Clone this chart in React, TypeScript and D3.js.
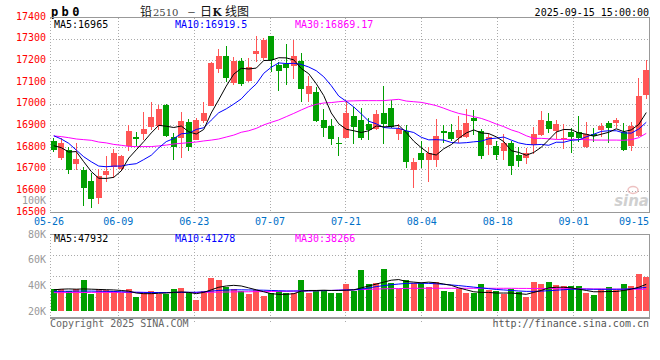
import * as d3 from 'd3';

// 日K 铅2510, 2025-05-26 .. 2025-09-15 (80 trading days)
const tickDates = ['05-26', '06-09', '06-23', '07-07', '07-21', '08-04', '08-18', '09-01', '09-15'];
const tickIndex = [0, 9, 19, 29, 39, 49, 59, 69, 79];

const opens = [
  16831, 16754, 16789, 16726, 16697, 16646, 16569, 16674, 16712, 16700,
  16809, 16849, 16865, 16895, 16898, 16995, 16848, 16846, 16918, 16835,
  16923, 16994, 17165, 17223, 17100, 17200, 17109, 17234, 17212, 17315,
  17183, 17188, 17178, 17200, 17049, 17055, 16926, 16900, 16823, 16846,
  16946, 16928, 16911, 16885, 16960, 16983, 16865, 16878, 16697, 16777,
  16743, 16745, 16877, 16872, 16846, 16849, 16937, 16877, 16812, 16808,
  16786, 16823, 16766, 16751, 16812, 16858, 16923, 16877, 16840, 16874,
  16871, 16802, 16865, 16882, 16915, 16915, 16874, 16809, 16855, 17043,
];
const highs = [
  16843, 16843, 16802, 16822, 16709, 16682, 16702, 16760, 16792, 16766,
  16905, 16874, 16963, 17012, 16997, 17000, 16866, 16965, 16932, 16935,
  17009, 17194, 17255, 17268, 17217, 17215, 17212, 17315, 17308, 17315,
  17197, 17277, 17297, 17235, 17131, 17082, 16977, 16932, 16851, 17017,
  16989, 16982, 16938, 16974, 17086, 17020, 16908, 16905, 16751, 16831,
  16802, 16932, 16905, 16909, 16946, 16978, 16974, 16886, 16866, 16831,
  16863, 16831, 16805, 16800, 16897, 16969, 16962, 16928, 16909, 16892,
  16948, 16920, 16889, 16915, 16923, 16938, 16912, 16920, 17123, 17205,
];
const lows = [
  16782, 16742, 16677, 16697, 16532, 16520, 16538, 16640, 16662, 16692,
  16786, 16809, 16834, 16882, 16882, 16849, 16743, 16754, 16783, 16835,
  16912, 16994, 17146, 17105, 17089, 17086, 17105, 17197, 17206, 17151,
  17062, 17089, 17117, 17009, 17009, 16917, 16851, 16812, 16763, 16846,
  16815, 16835, 16835, 16882, 16815, 16892, 16835, 16705, 16612, 16708,
  16643, 16712, 16820, 16831, 16820, 16843, 16858, 16748, 16766, 16743,
  16743, 16674, 16712, 16726, 16769, 16854, 16866, 16840, 16794, 16774,
  16825, 16797, 16828, 16851, 16823, 16889, 16785, 16785, 16851, 17025,
];
const closes = [
  16789, 16823, 16697, 16749, 16615, 16565, 16668, 16694, 16775, 16762,
  16877, 16842, 16886, 16942, 16978, 16855, 16805, 16922, 16805, 16926,
  16960, 17189, 17223, 17123, 17200, 17095, 17172, 17246, 17297, 17205,
  17155, 17168, 17225, 17072, 17085, 16925, 16892, 16840, 16817, 16960,
  16897, 16846, 16883, 16955, 16911, 16897, 16885, 16732, 16735, 16743,
  16774, 16854, 16868, 16840, 16882, 16915, 16925, 16763, 16849, 16766,
  16823, 16717, 16738, 16775, 16863, 16928, 16885, 16909, 16846, 16851,
  16846, 16863, 16855, 16900, 16892, 16928, 16789, 16900, 17038, 17158,
];

const ma5 = [
  16809, 16800, 16780, 16782, 16735, 16690, 16659, 16658, 16663, 16693,
  16752, 16790, 16828, 16868, 16903, 16899, 16893, 16900, 16873, 16863,
  16884, 16960, 17021, 17084, 17139, 17166, 17163, 17167, 17202, 17203,
  17215, 17214, 17205, 17165, 17141, 17095, 17040, 16960, 16910, 16885,
  16878, 16870, 16878, 16900, 16896, 16898, 16903, 16870, 16830, 16800,
  16774, 16766, 16795, 16814, 16843, 16868, 16882, 16868, 16865, 16850,
  16828, 16786, 16778, 16765, 16778, 16802, 16836, 16872, 16884, 16883,
  16868, 16862, 16853, 16862, 16871, 16887, 16874, 16882, 16907, 16962,
];
const ma10 = [
  16855, 16840, 16820, 16789, 16758, 16735, 16715, 16712, 16715, 16715,
  16722, 16726, 16745, 16765, 16799, 16828, 16842, 16864, 16867, 16884,
  16892, 16927, 16961, 16979, 17001, 17025, 17062, 17094, 17143, 17171,
  17191, 17188, 17189, 17184, 17172, 17155, 17127, 17086, 17038, 17014,
  16988, 16956, 16922, 16910, 16893, 16890, 16889, 16878, 16870, 16848,
  16836, 16837, 16835, 16824, 16821, 16823, 16827, 16830, 16841, 16844,
  16849, 16835, 16822, 16815, 16813, 16815, 16811, 16825, 16825, 16834,
  16836, 16850, 16862, 16875, 16878, 16878, 16868, 16867, 16886, 16917,
];
const ma30 = [
  16854, 16851, 16846, 16840, 16837, 16834, 16826, 16822, 16815, 16811,
  16806, 16805, 16805, 16805, 16808, 16812, 16817, 16820, 16823, 16826,
  16831, 16835, 16840, 16849, 16858, 16871, 16878, 16889, 16905, 16917,
  16928, 16943, 16958, 16974, 16989, 17000, 17006, 17008, 17012, 17015,
  17016, 17017, 17017, 17017, 17017, 17020, 17023, 17015, 17012, 17009,
  17002, 16994, 16982, 16969, 16958, 16951, 16943, 16935, 16923, 16909,
  16897, 16882, 16871, 16855, 16843, 16843, 16841, 16838, 16838, 16838,
  16838, 16837, 16835, 16835, 16835, 16835, 16834, 16837, 16846, 16866,
];

const volumes = [
  36900, 36900, 35600, 36900, 44200, 33200, 36900, 36400, 35800, 33800,
  37100, 31200, 34800, 35800, 33200, 33200, 37100, 38200, 33800, 28600,
  35800, 46000, 44200, 38400, 36900, 35800, 33200, 36400, 31900, 33800,
  35800, 33800, 33800, 44200, 34300, 36400, 36400, 34300, 34300, 41000,
  35800, 51900, 41000, 41600, 52700, 41600, 36900, 44200, 42100, 41600,
  38400, 42600, 35800, 34800, 36900, 34000, 33800, 41000, 36400, 35800,
  33200, 36900, 34800, 31200, 42600, 41000, 42600, 40300, 39500, 39500,
  39500, 34000, 32500, 36900, 38400, 36400, 41000, 39500, 48800, 46700,
];
const volMa5 = [
  36500, 37000, 37200, 37000, 37200, 37000, 36800, 36600, 36400, 36000,
  35500, 34000, 33500, 33500, 33800, 34000, 34500, 34800, 34500, 33500,
  34500, 36500, 38500, 39500, 40000, 39500, 38000, 36500, 35000, 33500,
  33000, 33000, 33500, 35500, 36000, 36000, 36200, 36000, 36000, 36200,
  36500, 38000, 39500, 41000, 42500, 44000, 44500, 43000, 42500, 42000,
  42500, 42000, 41000, 40000, 38000, 36500, 35000, 34500, 34500, 34000,
  34000, 34000, 33500, 33000, 34500, 36000, 38000, 38500, 38500, 38000,
  37000, 36000, 35000, 35000, 35200, 35200, 36000, 37000, 38500, 40800,
];
const volMa10 = [
  35300, 35300, 35400, 35500, 35500, 35500, 35400, 35300, 35200, 35000,
  34800, 34600, 34500, 34400, 34400, 34400, 34500, 34600, 34600, 34600,
  35000, 35500, 36000, 36300, 36500, 36500, 36400, 36300, 36200, 36000,
  35800, 35600, 35600, 35600, 35700, 35800, 35900, 36000, 36200, 36400,
  36500, 37000, 38000, 39000, 39800, 40500, 41000, 41500, 41600, 41600,
  41500, 41200, 40800, 40300, 39800, 39200, 38600, 38000, 37400, 36800,
  36400, 36000, 35600, 35300, 35300, 35500, 35800, 36200, 36600, 36900,
  37000, 37000, 36900, 36900, 36900, 36900, 37000, 37300, 37800, 38400,
];
const volMa30 = [
  34300, 34300, 34400, 34400, 34400, 34500, 34500, 34500, 34500, 34500,
  34500, 34500, 34500, 34400, 34400, 34400, 34400, 34400, 34400, 34400,
  34500, 34600, 34700, 34800, 34900, 35000, 35000, 35100, 35100, 35200,
  35300, 35400, 35500, 35600, 35700, 35800, 35900, 36000, 36200, 36400,
  36500, 36700, 36900, 37100, 37300, 37400, 37500, 37600, 37700, 37700,
  37700, 37700, 37700, 37700, 37700, 37700, 37700, 37700, 37700, 37700,
  37700, 37700, 37600, 37600, 37500, 37500, 37500, 37400, 37400, 37400,
  37300, 37300, 37200, 37200, 37100, 37100, 37000, 37000, 36900, 36900,
];

const priceTicks = [16500, 16600, 16700, 16800, 16900, 17000, 17100, 17200, 17300, 17400];
const volTicks = [20000, 40000, 60000, 80000];

const RED = '#ff5555';
const GREEN = '#009f00';
const MONO = "'DejaVu Sans Mono', monospace";
const CJK = "'Noto Sans CJK SC', sans-serif";

const left = 50;
const right = 649.5;
const mainTop = 17.6;
const mainBottom = 212.7;
const volTop = 234;
const volBottom = 318;
const volBase = 311;

export default function App() {
  const n = closes.length;
  const band = d3.scaleBand<number>().domain(d3.range(n)).range([left, 650]);
  const cx = (i: number) => (band(i) ?? 0) + band.bandwidth() / 2;
  const xGrid = d3.scaleLinear().domain([0, n - 1]).range([left, right]);
  const y = d3.scaleLinear().domain([16500, 17400]).range([mainBottom, mainTop]);
  const yVol = d3.scaleLinear().domain([20000, 80000]).range([volBase, volTop]);

  const priceLine = d3.line<number>().x((_, i) => cx(i)).y(d => y(d));
  const volLine = d3.line<number>().x((_, i) => cx(i)).y(d => yVol(d));

  const bodyW = band.bandwidth() * 0.74;
  const volGrid = d3.range(1, 4).map(k => volTop + ((volBottom - volTop) * k) / 4);

  return (
    <svg
      width={660}
      height={360}
      style={{ position: 'absolute', left: 0, top: 0, background: '#fff' }}
      fontFamily={MONO}
    >
      {/* header */}
      <text x={51} y={15.5} fontSize={12} fontWeight="bold" letterSpacing={3.4} fill="#000">pb0</text>
      <g fontFamily={CJK} fontSize={12} fill="#111">
        <text x={140} y={16}>铅</text>
        <text x={153} y={16} fontFamily="'DejaVu Serif', serif" fontSize={10} fill="#444">2510</text>
        <text x={187} y={15.5} fontSize={9}>－</text>
        <text x={200} y={16}>日</text>
        <text x={212.5} y={16} fontFamily="'DejaVu Serif', serif" fontWeight="bold" fontSize={10.5}>K</text>
        <text x={225} y={16}>线图</text>
      </g>
      <text x={649} y={15.5} fontSize={10} textAnchor="end" fill="#000">2025-09-15 15:00:00</text>

      {/* main panel grid */}
      <g shapeRendering="crispEdges">
        {priceTicks.slice(1, -1).map(t => (
          <line key={t} x1={left} x2={right} y1={y(t)} y2={y(t)} stroke="#aaa" strokeDasharray="1 2" />
        ))}
        {tickIndex.slice(1, -1).map(t => (
          <line key={t} x1={xGrid(t)} x2={xGrid(t)} y1={mainTop} y2={mainBottom} stroke="#aaa" strokeDasharray="1 2" />
        ))}
        <line x1={left} x2={left} y1={mainTop} y2={mainBottom} stroke="#aaa" strokeDasharray="1 2" />
        <line x1={left} x2={right} y1={mainTop} y2={mainTop} stroke="#999" />
        <line x1={left} x2={right} y1={mainBottom} y2={mainBottom} stroke="#999" strokeWidth={1.5} />
        <line x1={right} x2={right} y1={mainTop} y2={mainBottom} stroke="#999" strokeWidth={1.5} />
      </g>

      {/* price axis */}
      <g fontSize={10} fill="#ff0000" textAnchor="end">
        {priceTicks.map(t => (
          <text key={t} x={46} y={y(t) + 2}>{t}</text>
        ))}
      </g>
      <text x={46} y={203.5} fontSize={10} fill="#999" textAnchor="end">100K</text>

      {/* watermark */}
      <g opacity={0.55}>
        <ellipse cx={633} cy={190} rx={5} ry={3.5} fill="none" stroke="#e09090" strokeWidth={1.5} />
        <text x={649} y={206} fontFamily="'DejaVu Sans', sans-serif" fontSize={15} fontStyle="italic" fontWeight="bold" fill="#aaa" textAnchor="end">sina</text>
      </g>

      {/* candles */}
      <g shapeRendering="crispEdges">
        {closes.map((c, i) => {
          const o = opens[i];
          const col = c >= o ? RED : GREEN;
          const x = cx(i);
          const top = y(Math.max(o, c));
          const bot = y(Math.min(o, c));
          return (
            <g key={i}>
              <line x1={x} x2={x} y1={y(highs[i])} y2={y(lows[i])} stroke={col} />
              <rect x={x - bodyW / 2} y={top} width={bodyW} height={Math.max(1, bot - top)} fill={col} />
            </g>
          );
        })}
      </g>

      {/* price moving averages */}
      <path d={priceLine(ma30) ?? ''} fill="none" stroke="#ff00ff" strokeWidth={1} />
      <path d={priceLine(ma10) ?? ''} fill="none" stroke="#0000ff" strokeWidth={1} />
      <path d={priceLine(ma5) ?? ''} fill="none" stroke="#000" strokeWidth={1} />

      <g fontSize={10}>
        <text x={54} y={27.5} fill="#000">MA5:16965</text>
        <text x={175} y={27.5} fill="#0000ff">MA10:16919.5</text>
        <text x={295} y={27.5} fill="#ff00ff">MA30:16869.17</text>
      </g>

      {/* date axis */}
      <g fontSize={10} fill="#0070c8">
        {tickIndex.map((t, k) => (
          <text
            key={t}
            x={k === tickIndex.length - 1 ? 649 : xGrid(t) - (k === 0 ? 1 : 0)}
            y={225}
            textAnchor={k === tickIndex.length - 1 ? 'end' : 'middle'}
          >
            {tickDates[k]}
          </text>
        ))}
      </g>

      {/* volume panel grid */}
      <g shapeRendering="crispEdges">
        {volGrid.map(g => (
          <line key={g} x1={left} x2={right} y1={g} y2={g} stroke="#aaa" strokeDasharray="1 2" />
        ))}
        {tickIndex.slice(1, -1).map(t => (
          <line key={t} x1={xGrid(t)} x2={xGrid(t)} y1={volTop} y2={volBottom + 4} stroke="#aaa" strokeDasharray="1 2" />
        ))}
        <line x1={left} x2={left} y1={volTop} y2={volBottom} stroke="#aaa" strokeDasharray="1 2" />
        <line x1={left} x2={right} y1={volTop} y2={volTop} stroke="#999" />
        <line x1={left} x2={right} y1={volBottom} y2={volBottom} stroke="#999" strokeWidth={1.5} />
        <line x1={right} x2={right} y1={volTop} y2={volBottom} stroke="#999" strokeWidth={1.5} />
      </g>

      <g fontSize={10} fill="#999" textAnchor="end">
        {volTicks.map(t => (
          <text key={t} x={46} y={yVol(t) + 3.5}>{`${t / 1000}K`}</text>
        ))}
      </g>

      {/* volume bars */}
      <g shapeRendering="crispEdges">
        {volumes.map((v, i) => (
          <rect
            key={i}
            x={cx(i) - 3}
            y={yVol(v)}
            width={6}
            height={volBase - yVol(v)}
            fill={closes[i] >= opens[i] ? RED : GREEN}
          />
        ))}
      </g>

      <path d={volLine(volMa30) ?? ''} fill="none" stroke="#ff00ff" strokeWidth={1} />
      <path d={volLine(volMa10) ?? ''} fill="none" stroke="#0000ff" strokeWidth={1} />
      <path d={volLine(volMa5) ?? ''} fill="none" stroke="#000" strokeWidth={1} />

      <g fontSize={10}>
        <text x={54} y={241.5} fill="#000">MA5:47932</text>
        <text x={175} y={241.5} fill="#0000ff">MA10:41278</text>
        <text x={295} y={241.5} fill="#ff00ff">MA30:38266</text>
      </g>

      {/* footer */}
      <text x={50} y={327} fontSize={10} fill="#666">Copyright 2025 SINA.COM</text>
      <text x={649} y={327} fontSize={10} fill="#555" textAnchor="end">http://finance.sina.com.cn</text>
    </svg>
  );
}
